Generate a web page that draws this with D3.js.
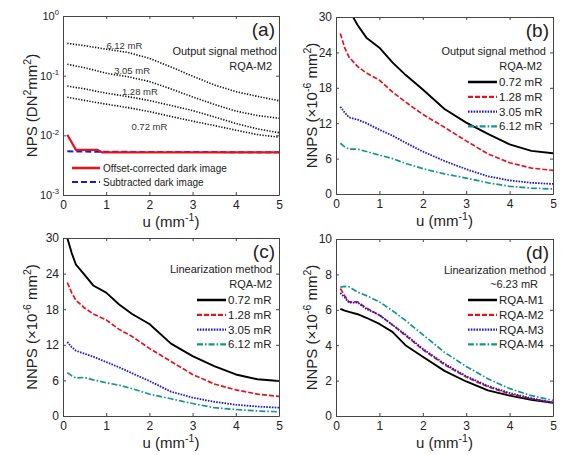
<!DOCTYPE html>
<html><head><meta charset="utf-8">
<script src="https://cdn.jsdelivr.net/npm/d3@7"></script>
<style>
body{margin:0;background:#fff;}
svg{display:block;font-family:"Liberation Sans",Arial,Helvetica,sans-serif;}
</style></head><body><svg id="chart" width="567" height="455"></svg>
<script>
// ---------- data ----------
const uTicks = [0, 1, 2, 3, 4, 5];

// panel (a): NPS, log scale
const uA = [0.1, 0.5, 1, 1.5, 2, 2.5, 3, 3.5, 4, 4.5, 5];
const npsA612 = [0.348, 0.318, 0.278, 0.245, 0.195, 0.14, 0.098, 0.07, 0.054, 0.045, 0.038];
const npsA305 = [0.155, 0.136, 0.11, 0.096, 0.080, 0.06, 0.044, 0.033, 0.0255, 0.0215, 0.0193];
const npsA128 = [0.067, 0.060, 0.051, 0.0446, 0.0383, 0.0316, 0.026, 0.0204, 0.0158, 0.0128, 0.0111];
const npsA072 = [0.0434, 0.0385, 0.0333, 0.0292, 0.025, 0.0207, 0.0173, 0.0146, 0.0122, 0.0103, 0.0093];
const uDarkOffset = [0.1, 0.3, 0.8, 0.9, 5];
const npsDarkOffset = [0.0102, 0.0057, 0.0057, 0.0052, 0.0052];
const uDarkSub = [0.1, 0.9, 5];
const npsDarkSub = [0.0054, 0.0053, 0.0052];
const yTicksA = [0.001, 0.01, 0.1, 1];
const doseLabelsA = ["6.12 mR", "3.05 mR", "1.28 mR", "0.72 mR"];

// common frequency grid for (b)-(d)
const uGrid = [0.1, 0.2, 0.3, 0.5, 0.7, 1.0, 1.3, 1.6, 2.0, 2.5, 3.0, 3.5, 4.0, 4.5, 5.0];

// panel (b): output signal method, RQA-M2
const nnpsB072 = [34, 32.5, 31.2, 28.6, 26.5, 24.8, 22.3, 20.2, 17.7, 14.4, 12.1, 10.2, 8.4, 7.3, 6.9];
const nnpsB128 = [27.2, 24.8, 23.2, 21.6, 20.5, 19.3, 17.3, 15.6, 13.5, 11.3, 9.0, 6.8, 5.3, 4.4, 4.0];
const nnpsB305 = [14.8, 13.8, 13.0, 12.6, 12.0, 10.9, 9.9, 8.7, 7.2, 5.6, 4.2, 3.0, 2.3, 1.9, 1.7];
const nnpsB612 = [8.6, 8.0, 7.6, 7.6, 7.2, 6.6, 6.0, 5.2, 4.3, 3.4, 2.7, 1.9, 1.3, 1.0, 0.85];

// panel (c): linearization method, RQA-M2
const nnpsC072 = [30.0, 27.5, 25.5, 23.8, 22.0, 20.8, 18.8, 17.2, 15.5, 12.2, 10.1, 8.4, 7.0, 6.2, 5.9];
const nnpsC128 = [22.5, 20.8, 19.5, 18.2, 17.2, 16.2, 14.6, 13.4, 11.4, 9.2, 7.0, 5.4, 4.4, 3.7, 3.3];
const nnpsC305 = [12.5, 11.6, 11.0, 10.5, 10.0, 9.1, 8.2, 7.2, 5.9, 4.1, 3.1, 2.4, 1.9, 1.6, 1.4];
const nnpsC612 = [7.3, 6.8, 6.4, 6.5, 6.1, 5.6, 5.2, 4.6, 3.7, 2.9, 2.1, 1.4, 1.1, 0.85, 0.7];
const yTicksBC = [0, 6, 12, 18, 24, 30];
const doseLabels = ["0.72 mR", "1.28 mR", "3.05 mR", "6.12 mR"];

// panel (d): linearization method, ~6.23 mR
const nnpsDM1 = [6.05, 5.95, 5.88, 5.75, 5.55, 5.2, 4.75, 4.0, 3.35, 2.55, 1.95, 1.45, 1.15, 0.92, 0.75];
const nnpsDM2 = [7.2, 6.8, 6.45, 6.45, 6.1, 5.7, 5.15, 4.55, 3.75, 2.9, 2.2, 1.65, 1.25, 0.98, 0.75];
const nnpsDM3 = [6.95, 6.7, 6.4, 6.4, 6.05, 5.7, 5.15, 4.6, 3.8, 2.95, 2.25, 1.7, 1.3, 1.0, 0.75];
const nnpsDM4 = [7.28, 7.32, 7.3, 7.0, 6.8, 6.45, 5.95, 5.4, 4.6, 3.6, 2.8, 2.1, 1.55, 1.15, 0.88];
const yTicksD = [0, 2, 4, 6, 8, 10];
const rqaLabels = ["RQA-M1", "RQA-M2", "RQA-M3", "RQA-M4"];

// ---------- styles ----------
const TXT = "#222";
const AX = "#444";
const styles = [
  {color: "#000000", width: 1.9, dash: null},
  {color: "#e3141b", width: 1.7, dash: "5,2"},
  {color: "#1a1ad0", width: 1.8, dash: "1.6,1.2"},
  {color: "#14958c", width: 1.7, dash: "6,2,1.6,2"}
];

const svg = d3.select("#chart");

function addSupText(sel, parts, fs) {
  parts.forEach(([t, sup], i) => {
    const ts = sel.append("tspan").text(t);
    if (sup) { ts.attr("font-size", fs * 0.7).attr("dy", -fs * 0.42); }
    else if (i > 0 && parts[i - 1][1]) { ts.attr("dy", fs * 0.42); }
  });
}

function panel(o) {
  const g = svg.append("g");
  const x = d3.scaleLinear().domain([0, 5]).range([o.x0, o.x1]);
  const y = (o.log ? d3.scaleLog() : d3.scaleLinear()).domain(o.yDomain).range([o.y1, o.y0]);
  const clipId = "clip-" + o.key;
  svg.append("clipPath").attr("id", clipId).append("rect")
    .attr("x", o.x0).attr("y", o.y0).attr("width", o.x1 - o.x0).attr("height", o.y1 - o.y0);

  const line = d3.line().x(d => x(d[0])).y(d => y(d[1]));
  o.series.forEach(s => {
    g.append("path")
      .datum(s.values.map((v, i) => [s.u[i], v]))
      .attr("d", line)
      .attr("clip-path", `url(#${clipId})`)
      .attr("fill", "none")
      .attr("stroke", s.style.color)
      .attr("stroke-width", s.style.width)
      .attr("stroke-dasharray", s.style.dash)
      .attr("stroke-linejoin", "round");
  });

  const styleAxis = a => {
    a.select(".domain").attr("stroke", AX).attr("stroke-width", 1);
    a.selectAll(".tick line").attr("stroke", AX);
    a.selectAll(".tick text").attr("fill", TXT).attr("font-size", 12).attr("font-family", "Liberation Sans, Arial, sans-serif");
  };
  g.append("g").attr("transform", `translate(0,${o.y1})`)
    .call(d3.axisBottom(x).tickValues(uTicks).tickFormat(d3.format("d")).tickSizeInner(-3).tickSizeOuter(0).tickPadding(5))
    .call(styleAxis);
  g.append("g").attr("transform", `translate(0,${o.y0})`)
    .call(d3.axisTop(x).tickValues(uTicks).tickFormat("").tickSizeInner(-3).tickSizeOuter(0))
    .call(styleAxis);
  const left = g.append("g").attr("transform", `translate(${o.x0},0)`)
    .call(d3.axisLeft(y).tickValues(o.yTicks).tickFormat(o.log ? () => "" : d3.format("d")).tickSizeInner(-3).tickSizeOuter(0).tickPadding(4))
    .call(styleAxis);
  if (o.log) {
    left.selectAll(".tick text").each(function (d) {
      const t = d3.select(this).attr("font-size", 11);
      t.text(null);
      addSupText(t, [["10", false], [String(Math.round(Math.log10(d))), true]], 11);
    });
  }
  g.append("g").attr("transform", `translate(${o.x1},0)`)
    .call(d3.axisRight(y).tickValues(o.yTicks).tickFormat("").tickSizeInner(-3).tickSizeOuter(0))
    .call(styleAxis);

  const xl = g.append("text").attr("x", (o.x0 + o.x1) / 2).attr("y", o.y1 + 32)
    .attr("text-anchor", "middle").attr("font-size", 15).attr("fill", TXT);
  addSupText(xl, [["u (mm", false], ["-1", true], [")", false]], 15);
  const yl = g.append("text")
    .attr("transform", `translate(${o.ylx},${(o.y0 + o.y1) / 2}) rotate(-90)`)
    .attr("text-anchor", "middle").attr("font-size", 15).attr("fill", TXT);
  addSupText(yl, o.ylabel, 15);

  g.append("text").attr("x", o.x1 - 4).attr("y", o.y0 + 20).attr("text-anchor", "end")
    .attr("font-size", 19).attr("fill", TXT).text(o.letter);
  o.header.forEach((h, i) => {
    g.append("text").attr("x", o.hx[i]).attr("y", o.hy[i]).attr("text-anchor", "end")
      .attr("font-size", 11).attr("fill", TXT).text(h);
  });
  return {x, y, g};
}

// ---------- panel (a) ----------
const dotted = {color: "#111", width: 1.6, dash: "1.3,1.5"};
const pa = panel({
  key: "a", x0: 63, x1: 279, y0: 16, y1: 195, log: true, yDomain: [0.001, 1], yTicks: yTicksA,
  ylx: 37, ylabel: [["NPS (DN", false], ["2", true], ["mm", false], ["2", true], [")", false]],
  letter: "(a)", header: ["Output signal method", "RQA-M2"], hx: [277, 272], hy: [55, 70],
  series: [
    {u: uA, values: npsA612, style: dotted},
    {u: uA, values: npsA305, style: dotted},
    {u: uA, values: npsA128, style: dotted},
    {u: uA, values: npsA072, style: dotted},
    {u: uDarkSub, values: npsDarkSub, style: {color: "#1a1ad8", width: 2, dash: "6,3"}},
    {u: uDarkOffset, values: npsDarkOffset, style: {color: "#e3141b", width: 2.2, dash: null}}
  ]
});
const doseAnnot = [[1.42, 0.28], [1.6, 0.107], [1.78, 0.0475], [2.0, 0.0125]];
doseLabelsA.forEach((t, i) => {
  pa.g.append("text").attr("x", pa.x(doseAnnot[i][0])).attr("y", pa.y(doseAnnot[i][1]))
    .attr("text-anchor", "middle").attr("font-size", 9.5).attr("fill", "#333").text(t);
});
[["Offset-corrected dark image", {color: "#e3141b", width: 2.6, dash: null}],
 ["Subtracted dark image", {color: "#1a1ad8", width: 2.2, dash: "6,3"}]].forEach(([t, s], i) => {
  const yy = 168 + i * 14;
  pa.g.append("line").attr("x1", 72).attr("x2", 100).attr("y1", yy).attr("y2", yy)
    .attr("stroke", s.color).attr("stroke-width", s.width).attr("stroke-dasharray", s.dash);
  pa.g.append("text").attr("x", 103).attr("y", yy + 4).attr("font-size", 10).attr("fill", TXT).text(t);
});

function legend(p, labels, box, rowY) {
  labels.forEach((t, i) => {
    const yy = rowY + i * 14.8;
    const s = styles[i];
    p.g.append("line").attr("x1", box - 85).attr("x2", box - 56).attr("y1", yy).attr("y2", yy)
      .attr("stroke", s.color).attr("stroke-width", s.width + 0.6).attr("stroke-dasharray", s.dash);
    p.g.append("text").attr("x", box - 54).attr("y", yy + 4).attr("font-size", 11.5).attr("fill", TXT).text(t);
  });
}

// ---------- panel (b) ----------
const nnpsLabel = [["NNPS (\u00d710", false], ["-6", true], [" mm", false], ["2", true], [")", false]];
const pb = panel({
  key: "b", x0: 336, x1: 553, y0: 17, y1: 194, log: false, yDomain: [0, 30], yTicks: yTicksBC,
  ylx: 317, ylabel: nnpsLabel, letter: "(b)", header: ["Output signal method", "RQA-M2"],
  hx: [546, 542], hy: [55, 70],
  series: [nnpsB072, nnpsB128, nnpsB305, nnpsB612].map((v, i) => ({u: uGrid, values: v, style: styles[i]}))
});
legend(pb, doseLabels, 553, 82);

// ---------- panel (c) ----------
const pc = panel({
  key: "c", x0: 63, x1: 279, y0: 238, y1: 416, log: false, yDomain: [0, 30], yTicks: yTicksBC,
  ylx: 37, ylabel: nnpsLabel, letter: "(c)", header: ["Linearization method", "RQA-M2"],
  hx: [272, 272], hy: [273, 288],
  series: [nnpsC072, nnpsC128, nnpsC305, nnpsC612].map((v, i) => ({u: uGrid, values: v, style: styles[i]}))
});
legend(pc, doseLabels, 282, 300);

// ---------- panel (d) ----------
const pd = panel({
  key: "d", x0: 336, x1: 553, y0: 239, y1: 416, log: false, yDomain: [0, 10], yTicks: yTicksD,
  ylx: 317, ylabel: nnpsLabel, letter: "(d)", header: ["Linearization method", "~6.23 mR"],
  hx: [546, 538], hy: [274, 288],
  series: [nnpsDM1, nnpsDM2, nnpsDM3, nnpsDM4].map((v, i) => ({u: uGrid, values: v, style: styles[i]}))
});
legend(pd, rqaLabels, 553, 300);
</script></body></html>
